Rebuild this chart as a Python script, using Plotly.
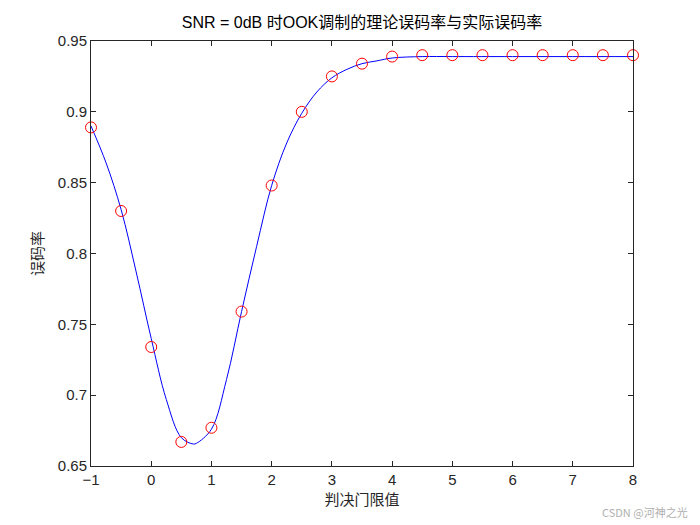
import plotly.graph_objects as go

# theoretical BER curve
theory_x = [-1, -0.75, -0.5, -0.25, 0, 0.25, 0.5, 0.7, 0.75, 1, 1.25, 1.5, 1.75, 2,
            2.25, 2.5, 2.75, 3, 3.25, 3.5, 3.75, 4, 4.5, 5, 6, 7, 8]
theory_y = [0.890, 0.864, 0.831, 0.787, 0.740, 0.697, 0.670, 0.6655, 0.666, 0.676,
            0.711, 0.759, 0.805, 0.848, 0.878, 0.899, 0.914, 0.924, 0.930, 0.934,
            0.936, 0.938, 0.939, 0.939, 0.939, 0.939, 0.939]

# simulated BER (red circles)
sim_x = [-1, -0.5, 0, 0.5, 1, 1.5, 2, 2.5, 3, 3.5, 4, 4.5, 5, 5.5, 6, 6.5, 7, 7.5, 8]
sim_y = [0.889, 0.830, 0.734, 0.667, 0.677, 0.759, 0.848, 0.900, 0.925, 0.934, 0.939,
         0.940, 0.940, 0.940, 0.940, 0.940, 0.940, 0.940, 0.940]

x_ticks = [-1, 0, 1, 2, 3, 4, 5, 6, 7, 8]
y_ticks = [0.65, 0.7, 0.75, 0.8, 0.85, 0.9, 0.95]
y_ticktext = ['0.65', '0.7', '0.75', '0.8', '0.85', '0.9', '0.95']

fig = go.Figure()

fig.add_trace(go.Scatter(
    x=theory_x, y=theory_y,
    mode='lines',
    line=dict(color='#0000FF', width=1, shape='spline', smoothing=1.0),
    showlegend=False))

fig.add_trace(go.Scatter(
    x=sim_x, y=sim_y,
    mode='markers',
    marker=dict(symbol='circle-open', size=11, color='#FF0000', line=dict(width=1)),
    cliponaxis=False,
    showlegend=False))

axis_common = dict(
    showline=True,
    linecolor='#262626',
    linewidth=1,
    mirror='ticks',
    ticks='inside',
    ticklen=5,
    tickcolor='#262626',
    showgrid=False,
    zeroline=False,
    tickfont=dict(family='Liberation Sans, Arial', size=15, color='#262626'),
)

# page body adds an 8px offset, margins below compensate for it
fig.update_layout(
    width=700,
    height=525,
    paper_bgcolor='white',
    plot_bgcolor='white',
    margin=dict(l=83, r=75, t=33, b=67),
    title=dict(
        text='SNR = 0dB 时OOK调制的理论误码率与实际误码率',
        x=354 / 700, xanchor='center',
        y=1 - 14 / 525, yanchor='middle',
        font=dict(family='Liberation Sans, Noto Sans CJK SC', size=16, color='#000000')),
    xaxis=dict(
        range=[-1, 8],
        tickvals=x_ticks,
        title=dict(text='判决门限值', standoff=6,
                   font=dict(family='Noto Sans CJK SC', size=15, color='#262626')),
        **axis_common),
    yaxis=dict(
        range=[0.65, 0.95],
        tickvals=y_ticks,
        ticktext=y_ticktext,
        title=dict(text='误码率', standoff=10,
                   font=dict(family='Noto Sans CJK SC', size=15, color='#262626')),
        **axis_common),
    annotations=[dict(
        text='CSDN @河神之光',
        xref='paper', yref='paper',
        x=(690 - 91) / 542, y=-46 / 425,
        xanchor='right', yanchor='middle',
        showarrow=False,
        font=dict(family='Noto Sans CJK SC', size=11, color='#b0b0b0'))],
)

fig.write_html("out.html")
